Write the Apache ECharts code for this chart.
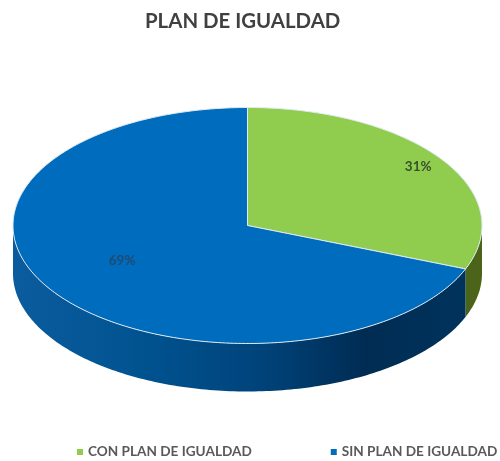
<!DOCTYPE html>
<html>
<head>
<meta charset="utf-8">
<style>html,body{margin:0;padding:0;background:#fff}#c{width:500px;height:461px}</style>
<script src="https://cdn.jsdelivr.net/npm/echarts@6/dist/echarts.min.js"></script>
</head>
<body>
<div id="c"></div>
<script>
const chartTitle = 'PLAN DE IGUALDAD';
const categories = ['CON PLAN DE IGUALDAD', 'SIN PLAN DE IGUALDAD'];
const values = [31, 69];
const topColors = ['#90cc4e', '#006cbd'];
const labelColors = ['#37502a', '#1f4a72'];
const labelRadii = [0.88, 0.61];

const cx = 247.5, cy = 225.5, rx = 234.5, ry = 118, depth = 48;
const total = values.reduce((a, b) => a + b, 0);

function pt(frac, k, dy) {
  const a = frac * 2 * Math.PI;
  return [cx + k * rx * Math.sin(a), cy - k * ry * Math.cos(a) + (dy || 0)];
}
function arc(f0, f1, dy) {
  const n = Math.max(2, Math.ceil((f1 - f0) * 360));
  const out = [];
  for (let i = 0; i <= n; i++) out.push(pt(f0 + (f1 - f0) * i / n, 1, dy));
  return out;
}
function makeRender(idx) {
  return function (params, api) {
    const v = api.value(0);
    const before = values.slice(0, idx).reduce((a, b) => a + b, 0);
    const f0 = before / total, f1 = (before + v) / total;
    const children = [];
    // visible outer wall: the front half of the ellipse (0.25 to 0.75)
    const s0 = Math.max(f0, 0.25), s1 = Math.min(f1, 0.75);
    if (s1 > s0) {
      const upper = arc(s0, s1, 0);
      const lower = arc(s0, s1, depth).reverse();
      const fill = idx === 0 ? '#4b6419' : new echarts.graphic.LinearGradient(0, 0, 1, 0, [
        { offset: 0, color: '#0a5c9e' },
        { offset: 0.3, color: '#00528f' },
        { offset: 0.55, color: '#00437a' },
        { offset: 0.78, color: '#002c53' },
        { offset: 1, color: '#00335c' }
      ]);
      children.push({ type: 'polygon', shape: { points: upper.concat(lower) }, style: { fill: fill } });
    }
    // top face
    const pts = [[cx, cy]].concat(arc(f0, f1, 0));
    children.push({ type: 'polygon', shape: { points: pts }, style: { fill: api.visual('color'), stroke: '#dfeaf2', lineWidth: 1, lineJoin: 'round' } });
    // label
    const lp = pt((f0 + f1) / 2 + (idx === 1 ? 0.015 : 0), labelRadii[idx], 0);
    children.push({
      type: 'text',
      x: lp[0], y: lp[1],
      style: {
        text: Math.round(v / total * 100) + '%',
        fill: labelColors[idx],
        font: 'bold 13.5px Lato, "Open Sans", sans-serif',
        textAlign: 'center', textVerticalAlign: 'middle'
      }
    });
    return { type: 'group', children: children };
  };
}

const chart = echarts.init(document.getElementById('c'), null, { renderer: 'canvas' });
chart.setOption({
  animation: false,
  backgroundColor: '#ffffff',
  title: {
    text: chartTitle, left: 145, top: 11, padding: 0,
    textStyle: { fontFamily: 'Lato, sans-serif', fontWeight: 'bold', fontSize: 20.4, color: '#404040' }
  },
  legend: {
    data: categories,
    left: 77, top: 445, padding: 0,
    icon: 'rect', itemWidth: 6, itemHeight: 6, itemGap: 79,
    textStyle: { fontFamily: 'Lato, sans-serif', fontWeight: 'bold', fontSize: 13.6, color: '#595959' }
  },
  series: categories.map((name, i) => ({
    type: 'custom',
    name: name,
    coordinateSystem: 'none',
    silent: true,
    itemStyle: { color: topColors[i] },
    renderItem: makeRender(i),
    data: [[values[i]]]
  }))
});
</script>
</body>
</html>
